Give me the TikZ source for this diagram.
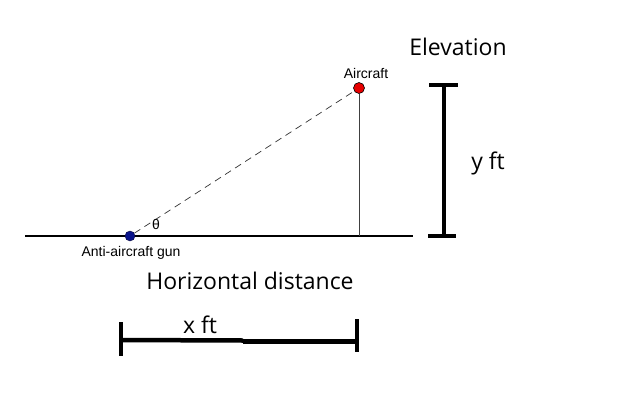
\documentclass[tikz,border=0pt]{standalone}
\usepackage{fontspec}
\setmainfont{Liberation Sans}
\newfontfamily\bigfont{Open Sans}
\begin{document}
\begin{tikzpicture}[x=1pt,y=-1pt,
  small/.style={font=\fontsize{14}{16}\selectfont, inner sep=0pt},
  big/.style={font=\bigfont\fontsize{23}{26}\selectfont, inner sep=0pt},
  thickbar/.style={line width=4.5pt},
  ground/.style={line width=2.8pt}]
\useasboundingbox[fill=white] (0,0) rectangle (632,402);
% ground line
\coordinate (gl) at (25,236);
\coordinate (gr) at (413,236);
\draw[ground] (gl) -- (gr);
% points
\coordinate (foot) at (359,236);
\node[circle, fill={rgb,255:red,10;green,20;blue,140}, draw={rgb,255:red,10;green,10;blue,60}, minimum size=10pt, inner sep=0pt] (gun) at (130,236) {};
\node[circle, fill={rgb,255:red,230;green,0;blue,0}, draw=black, line width=0.6pt, minimum size=11pt, inner sep=0pt] (plane) at (359,88) {};
\draw[dashed, dash pattern=on 7pt off 5pt, line width=0.7pt, black!80] (gun) -- (plane);
\draw[line width=0.8pt, black!75] (plane) -- (foot);
% labels
\node[small] (theta) at (156,224) {θ};
\node[small] (gunlbl) at (131,253) {Anti-aircraft gun};
\node[small] (planelbl) at (366,73) {Aircraft};
\node[big] (elev) at (458,47) {Elevation};
\node[big] (yft) at (488,163) {y ft};
\node[big] (hd) at (250,281) {Horizontal distance};
\node[big] (xft) at (200,325) {x ft};
% y bar
\coordinate (yt) at (444,85);
\coordinate (yb) at (444,236);
\draw[thickbar] (yt) -- (yb);
\coordinate (ytl) at (429,85); \coordinate (ytr) at (458,85);
\draw[thickbar] (ytl) -- (ytr);
\coordinate (ybl) at (428,236); \coordinate (ybr) at (456,236);
\draw[thickbar] (ybl) -- (ybr);
% x bar
\coordinate (xl) at (121,340);
\coordinate (xm) at (243,340.5);
\coordinate (xm2) at (243,341.5);
\coordinate (xr) at (357,341.5);
\draw[thickbar] (xl) -- (xm);
\draw[thickbar] (xm2) -- (xr);
\coordinate (xlt) at (121,322); \coordinate (xlb) at (121,356);
\draw[thickbar] (xlt) -- (xlb);
\coordinate (xrt) at (357,319); \coordinate (xrb) at (357,352);
\draw[thickbar] (xrt) -- (xrb);
\end{tikzpicture}
\end{document}
